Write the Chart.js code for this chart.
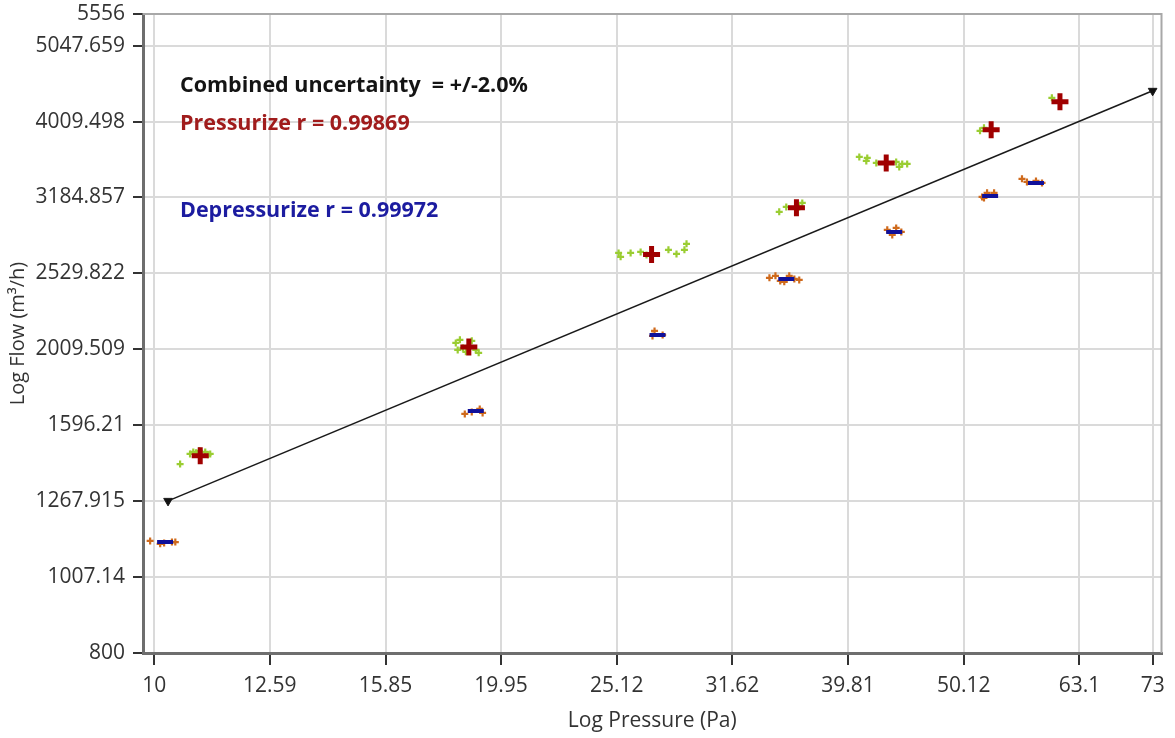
<!DOCTYPE html>
<html>
<head>
<meta charset="utf-8">
<title>Log Flow vs Log Pressure</title>
<script src="https://cdn.jsdelivr.net/npm/chart.js@4/dist/chart.umd.min.js"></script>
<style>
  html, body { margin: 0; padding: 0; background: #fff; }
  #flowChart { display: block; }
</style>
</head>
<body>
<canvas id="flowChart" width="1175" height="738"></canvas>
<script>
// tick values / labels
const xTicks = [10, 12.59, 15.85, 19.95, 25.12, 31.62, 39.81, 50.12, 63.1, 73];
const xTickLabels = ["10", "12.59", "15.85", "19.95", "25.12", "31.62", "39.81", "50.12", "63.1", "73"];
const yTicks = [800, 1007.14, 1267.915, 1596.21, 2009.509, 2529.822, 3184.857, 4009.498, 5047.659, 5556];
const yTickLabels = ["800", "1007.14", "1267.915", "1596.21", "2009.509", "2529.822", "3184.857", "4009.498", "5047.659", "5556"];

// pressurize averages (red crosses)
const pressMeanX = [10.96, 18.71, 26.92, 35.92, 42.95, 52.93, 60.70];
const pressMeanY = [1455, 2024, 2680, 3086, 3537, 3910, 4257];

// depressurize averages (blue dashes)
const depMeanX = [10.22, 18.97, 27.24, 35.20, 43.64, 52.82, 57.87];
const depMeanY = [1120, 1667, 2099, 2488, 2869, 3200, 3329];

// pressurize readings (green)
const pressRawX = [10.53, 10.74, 10.81, 10.87, 10.94, 11.07, 11.13, 11.18,
  18.23, 18.38, 18.49, 18.60, 18.82, 18.97, 19.08, 18.30,
  25.21, 25.31, 25.82, 26.34, 26.65, 27.84, 28.29, 28.74, 28.86,
  34.71, 35.20, 36.12, 36.34,
  40.71, 41.36, 41.28, 42.11, 43.81, 44.34, 44.78, 44.08,
  51.77, 52.18,
  59.73];
const pressRawY = [1419, 1463, 1472, 1468, 1477, 1472, 1459, 1463,
  2049, 2068, 2018, 1994, 2062, 2006, 1988, 2006,
  2692, 2660, 2692, 2700, 2676, 2717, 2684, 2717, 2767,
  3049, 3095, 3095, 3133,
  3602, 3591, 3558, 3537, 3548, 3526, 3526, 3494,
  3898, 3934,
  4309];

// depressurize readings (orange)
const depRawX = [9.92, 10.12, 10.20, 10.36, 10.43,
  18.56, 18.82, 19.12, 19.23,
  26.97, 27.08, 27.52,
  34.04, 34.45, 34.78, 35.06, 35.41, 35.77, 36.12,
  43.04, 43.47, 43.81, 44.26,
  51.98, 52.50, 53.24, 52.18,
  56.28, 56.84, 57.87, 58.57];
const depRawY = [1124, 1114, 1117, 1120, 1120,
  1652, 1662, 1677, 1657,
  2093, 2125, 2099,
  2496, 2511, 2473, 2466, 2511, 2488, 2480,
  2887, 2843, 2904, 2869,
  3190, 3230, 3230, 3181,
  3370, 3339, 3349, 3329];

// combined fit line
const fitX = [10.28, 73];
const fitY = [1269, 4401];

const noteLines = [
  { text: "Combined uncertainty  = +/-2.0%", color: "#141414", dy: 78 },
  { text: "Pressurize r = 0.99869", color: "#a01c1c", dy: 116 },
  { text: "Depressurize r = 0.99972", color: "#1c1ca0", dy: 203 }
];

function toPoints(xs, ys) {
  return xs.map((x, i) => ({ x: x, y: ys[i] }));
}

const FONT = "'Open Sans', 'Noto Sans', sans-serif";

const notesPlugin = {
  id: "notes",
  afterDraw(chart) {
    const { ctx, chartArea } = chart;
    ctx.save();
    // top / right frame
    ctx.strokeStyle = "#a8a8a8";
    ctx.lineWidth = 2;
    ctx.beginPath();
    ctx.moveTo(chartArea.left, chartArea.top);
    ctx.lineTo(chartArea.right, chartArea.top);
    ctx.lineTo(chartArea.right, chartArea.bottom);
    ctx.stroke();

    ctx.font = "bold 21.5px " + FONT;
    ctx.textBaseline = "alphabetic";
    ctx.textAlign = "left";
    noteLines.forEach(n => {
      ctx.fillStyle = n.color;
      ctx.fillText(n.text, chartArea.left + 37, chartArea.top + n.dy);
    });
    ctx.restore();
  }
};

Chart.defaults.font.family = FONT;
Chart.defaults.font.size = 21;
Chart.defaults.color = "#333";

const flowChart = new Chart(document.getElementById("flowChart"), {
  type: "scatter",
  data: {
    datasets: [
      {
        label: "Pressurize average",
        data: toPoints(pressMeanX, pressMeanY),
        pointStyle: "cross",
        pointRadius: 8.5,
        pointHoverRadius: 8.5,
        borderWidth: 5,
        borderColor: "#a00000",
        backgroundColor: "#a00000"
      },
      {
        label: "Depressurize average",
        data: toPoints(depMeanX, depMeanY),
        pointStyle: "line",
        pointRadius: 8,
        pointHoverRadius: 8,
        borderWidth: 4,
        borderColor: "#10109a",
        backgroundColor: "#10109a"
      },
      {
        label: "Pressurize",
        data: toPoints(pressRawX, pressRawY),
        pointStyle: "cross",
        pointRadius: 3.5,
        borderWidth: 2.2,
        borderColor: "#9acd32",
        backgroundColor: "#9acd32"
      },
      {
        label: "Depressurize",
        data: toPoints(depRawX, depRawY),
        pointStyle: "cross",
        pointRadius: 3.5,
        borderWidth: 2.2,
        borderColor: "#cf6a1c",
        backgroundColor: "#cf6a1c"
      },
      {
        label: "Fit",
        data: toPoints(fitX, fitY),
        showLine: true,
        borderColor: "#1a1a1a",
        borderWidth: 1.6,
        backgroundColor: "#111",
        pointStyle: "triangle",
        rotation: 180,
        pointRadius: 5,
        pointBorderWidth: 1
      }
    ]
  },
  options: {
    responsive: false,
    animation: false,
    layout: { padding: { top: 14, right: 12, left: 0, bottom: 0 } },
    plugins: {
      legend: { display: false },
      tooltip: { enabled: false }
    },
    scales: {
      x: {
        type: "logarithmic",
        min: 9.78,
        max: 74.3,
        afterBuildTicks: scale => { scale.ticks = xTicks.map(v => ({ value: v })); },
        afterFit: scale => {
          scale.height = 85;
          scale.paddingLeft = 0;
          scale.paddingRight = 0;
        },
        ticks: {
          autoSkip: false,
          maxRotation: 0,
          padding: 8,
          color: "#333",
          callback: (value, index) => xTickLabels[index]
        },
        grid: {
          color: "#dadada",
          lineWidth: 2,
          tickColor: "#333",
          tickLength: 12,
          tickWidth: 2
        },
        border: { color: "#6e6e6e", width: 3 },
        title: {
          display: true,
          text: "Log Pressure (Pa)",
          color: "#333",
          padding: { top: 0, bottom: 4 }
        }
      },
      y: {
        type: "logarithmic",
        min: 800,
        max: 5556,
        afterBuildTicks: scale => { scale.ticks = yTicks.map(v => ({ value: v })); },
        afterFit: scale => {
          scale.width = 143;
          scale.paddingTop = 0;
          scale.paddingBottom = 0;
        },
        ticks: {
          autoSkip: false,
          padding: 8,
          color: "#333",
          callback: (value, index) => yTickLabels[index]
        },
        grid: {
          color: "#dadada",
          lineWidth: 2,
          tickColor: "#333",
          tickLength: 10,
          tickWidth: 2
        },
        border: { color: "#6e6e6e", width: 3 },
        title: {
          display: true,
          text: "Log Flow (m³/h)",
          color: "#333",
          font: { size: 20 },
          padding: { top: 6, bottom: 0 }
        }
      }
    }
  },
  plugins: [notesPlugin]
});
</script>
</body>
</html>
